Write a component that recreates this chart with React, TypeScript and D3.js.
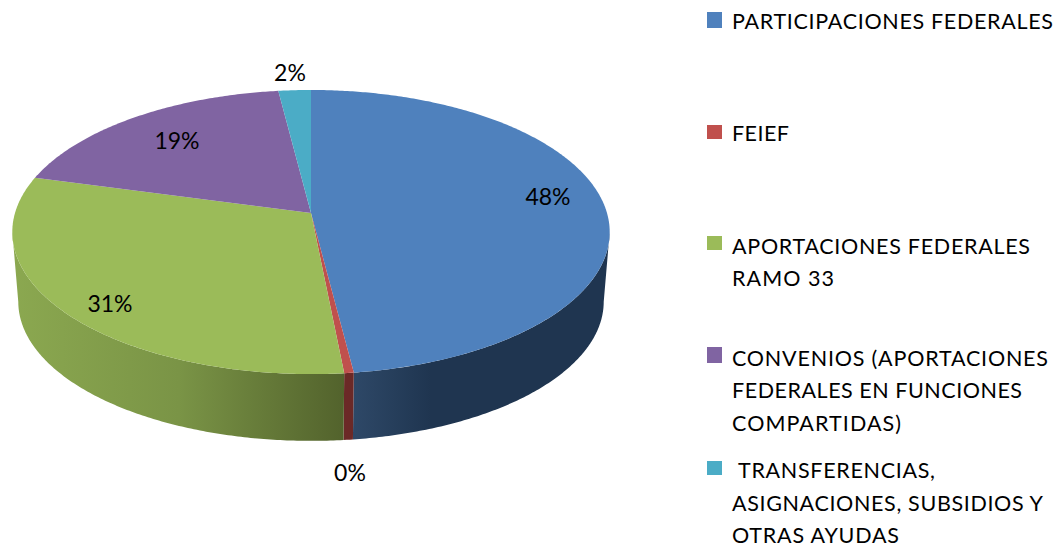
import React from "react";
import * as d3 from "d3";

const categories = [
  "PARTICIPACIONES FEDERALES",
  "FEIEF",
  "APORTACIONES FEDERALES RAMO 33",
  "CONVENIOS (APORTACIONES FEDERALES EN FUNCIONES COMPARTIDAS)",
  "TRANSFERENCIAS, ASIGNACIONES, SUBSIDIOS Y OTRAS AYUDAS",
];
const values = [48.0, 0.45, 30.75, 18.8, 2.0];
const percentLabels = ["48%", "0%", "31%", "19%", "2%"];
const topColors = ["#4f81bd", "#c0504d", "#9bbb59", "#8064a2", "#4bacc6"];
const legendLines = [
  ["PARTICIPACIONES FEDERALES"],
  ["FEIEF"],
  ["APORTACIONES FEDERALES", "RAMO 33"],
  ["CONVENIOS (APORTACIONES", "FEDERALES EN FUNCIONES", "COMPARTIDAS)"],
  [" TRANSFERENCIAS,", "ASIGNACIONES, SUBSIDIOS Y", "OTRAS AYUDAS"],
];

// layout
const CX = 311, CY = 213, RX = 296, RY = 139.5, K = 0.134;
const WALL_DY = 70, WALL_SCALE = 0.98;
const labelPos: [number, number][] = [[548, 205], [350, 481], [110, 312], [177, 149], [290, 81]];
const swatchY = [12, 125, 236, 347, 461];
const swatchH = [16, 14, 14, 16, 14];
const lineBaselines = [[29], [141], [254, 286], [366, 398, 431], [478, 511, 543]];
const lineWidths = [[321], [57], [298, 102], [316, 290, 169], [197, 311, 167]];
const wallFills = ["url(#wallBlue)", "#6b2927", "url(#wallGreen)", "#5d4876", "#327f93"];

const xScale = d3.scaleLinear().domain([-1, 1]).range([CX - RX, CX + RX]);
const yScale = d3.scaleLinear().domain([-1, 1]).range([CY - RY, CY + RY]);

function project(theta: number, scale = 1, dy = 0): [number, number] {
  const u = Math.sin(theta), v = -Math.cos(theta), w = 1 - K * v;
  return [CX + (xScale(u / w) - CX) * scale, yScale(0) + (yScale(v / w) - yScale(0)) * scale + dy];
}

const pieGen = d3.pie<number>().sort(null).value((d) => d);
const slices = pieGen(values);
const lineGen = d3.line<[number, number]>().x((d) => d[0]).y((d) => d[1]);

// The wall is only seen between the two points where the rim turns back.
const VISIBLE_FROM = Math.acos(-K);
const VISIBLE_TO = 2 * Math.PI - VISIBLE_FROM;

function thetas(a: number, b: number) {
  const n = Math.max(2, Math.ceil((b - a) / 0.01));
  return d3.range(n + 1).map((i) => a + ((b - a) * i) / n);
}

function topPath(a: number, b: number) {
  const pts: [number, number][] = [[CX, CY], ...thetas(a, b).map((t) => project(t))];
  return lineGen(pts) + "Z";
}
function wallPath(a0: number, b0: number) {
  const a = Math.max(a0, VISIBLE_FROM), b = Math.min(b0, VISIBLE_TO);
  if (b <= a) return "";
  const ts = thetas(a, b);
  const pts: [number, number][] = [
    ...ts.map((t) => project(t)),
    ...ts.slice().reverse().map((t) => project(t, WALL_SCALE, WALL_DY)),
  ];
  return lineGen(pts) + "Z";
}

export default function App() {
  return (
    <svg
      width={1056}
      height={547}
      style={{ position: "absolute", left: 0, top: 0, fontFamily: "Lato, Carlito, sans-serif" }}
    >
      <defs>
        <linearGradient id="wallGreen" gradientUnits="userSpaceOnUse" x1={13} x2={345} y1={0} y2={0}>
          <stop offset="0" stopColor="#8ba850" />
          <stop offset="0.5" stopColor="#7a9446" />
          <stop offset="1" stopColor="#52622c" />
        </linearGradient>
        <linearGradient id="wallBlue" gradientUnits="userSpaceOnUse" x1={354} x2={611} y1={0} y2={0}>
          <stop offset="0" stopColor="#2e4867" />
          <stop offset="0.3" stopColor="#1f3550" />
          <stop offset="1" stopColor="#1f3550" />
        </linearGradient>
      </defs>
      {slices.map((s, i) => (
        <path key={"w" + i} d={wallPath(s.startAngle, s.endAngle)} fill={wallFills[i]} />
      ))}
      {slices.map((s, i) => (
        <path key={"t" + i} d={topPath(s.startAngle, s.endAngle)} fill={topColors[i]} />
      ))}
      {percentLabels.map((t, i) => (
        <text key={"l" + i} x={labelPos[i][0]} y={labelPos[i][1]} textAnchor="middle" fontSize={23} fill="#000">
          {t}
        </text>
      ))}
      {categories.map((c, i) => (
        <g key={c}>
          <rect x={707} y={swatchY[i]} width={15} height={swatchH[i]} fill={topColors[i]} />
          {legendLines[i].map((line, j) => (
            <text
              key={j}
              x={i === 4 && j === 0 ? 738 : 732}
              y={lineBaselines[i][j]}
              fontSize={21.5}
              fill="#000"
              textLength={lineWidths[i][j]}
              lengthAdjust="spacing"
            >
              {line.trim()}
            </text>
          ))}
        </g>
      ))}
    </svg>
  );
}
